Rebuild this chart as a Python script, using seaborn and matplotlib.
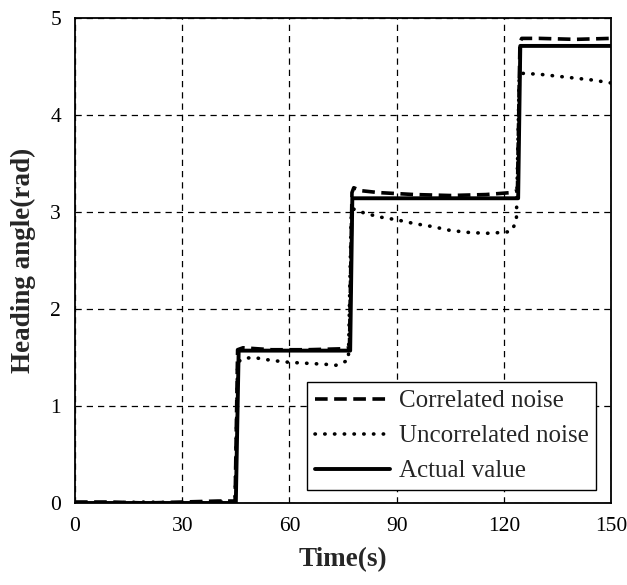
import numpy as np
import pandas as pd
import matplotlib
matplotlib.use("Agg")
import matplotlib.pyplot as plt
import seaborn as sns

sns.set_theme(style="white")
plt.rcParams['font.family'] = ['Liberation Serif', 'DejaVu Serif']
plt.rcParams['mathtext.fontset'] = 'stix'

# ---- data ----
t_corr = [0, 10, 20, 30, 40, 44.8, 45.5, 47, 55, 65, 75, 76.8,
          77.5, 78, 80, 85, 95, 105, 115, 122, 123.8,
          124.5, 125, 130, 140, 150]
y_corr = [0.01, 0.01, 0.0, 0.01, 0.02, 0.02, 1.58, 1.60, 1.58, 1.58, 1.59, 1.60,
          3.20, 3.25, 3.22, 3.20, 3.18, 3.17, 3.18, 3.20, 3.22,
          4.75, 4.79, 4.79, 4.78, 4.79]

t_unc = [0, 10, 20, 30, 40, 44.8, 45.5, 47, 50, 55, 60, 65, 70, 73, 75, 76.5,
         77.3, 78, 80, 85, 90, 95, 100, 105, 110, 115, 120, 122, 123.5,
         124.3, 125, 130, 135, 140, 145, 150]
y_unc = [0.0, 0.0, 0.01, 0.0, 0.01, 0.01, 1.45, 1.49, 1.50, 1.47, 1.45, 1.44, 1.43, 1.42, 1.45, 1.47,
         3.00, 3.03, 3.00, 2.95, 2.92, 2.88, 2.85, 2.81, 2.79, 2.78, 2.79, 2.80, 2.90,
         4.40, 4.43, 4.42, 4.40, 4.38, 4.36, 4.33]

t_act = [0, 45, 45.8, 77, 77.6, 124, 124.6, 150]
y_act = [0, 0, np.pi / 2, np.pi / 2, np.pi, np.pi, 3 * np.pi / 2, 3 * np.pi / 2]

labels = ["Correlated noise", "Uncorrelated noise", "Actual value"]
x_ticks = [0, 30, 60, 90, 120, 150]
y_ticks = [0, 1, 2, 3, 4, 5]

# ---- figure ----
fig = plt.figure(figsize=(6.27, 5.85), dpi=100)
ax = fig.add_axes([0.1196, 0.1402, 0.855, 0.829])

sns.lineplot(x=t_corr, y=y_corr, ax=ax, color='black', lw=2.6,
             linestyle=(0, (3.5, 1.8)), label=labels[0], sort=False, zorder=4)
sns.lineplot(x=t_unc, y=y_unc, ax=ax, color='black', lw=2.6,
             linestyle=(0, (0.1, 2.6)), dash_capstyle='round',
             label=labels[1], sort=False, zorder=4)
sns.lineplot(x=t_act, y=y_act, ax=ax, color='black', lw=2.8,
             label=labels[2], sort=False, zorder=3)

ax.set_xlim(0, 150)
ax.set_ylim(0, 5)
ax.set_xticks(x_ticks)
ax.set_yticks(y_ticks)
ax.grid(True, color='black', linestyle=(0, (5, 4)), lw=0.9)
for s in ax.spines.values():
    s.set_color('black')
    s.set_linewidth(1.3)
ax.tick_params(axis='x', direction='inout', length=8, width=1.2, labelsize=15.5, pad=6, colors='black')
ax.tick_params(axis='y', direction='out', length=6, width=1.2, labelsize=15.5, pad=4, colors='black')
ax.set_xlabel("Time(s)", fontsize=19.5, fontweight='bold', labelpad=8)
ax.set_ylabel("Heading angle(rad)", fontsize=19.5, fontweight='bold', labelpad=10)

leg = ax.legend(loc='lower right', fontsize=18, frameon=True, fancybox=False,
                edgecolor='black', framealpha=1, handlelength=3.0,
                borderpad=0.3, labelspacing=0.5, handletextpad=0.35,
                borderaxespad=0, bbox_to_anchor=(0.972, 0.027))
leg.get_frame().set_linewidth(1.0)

fig.savefig("out.png", dpi=100)
